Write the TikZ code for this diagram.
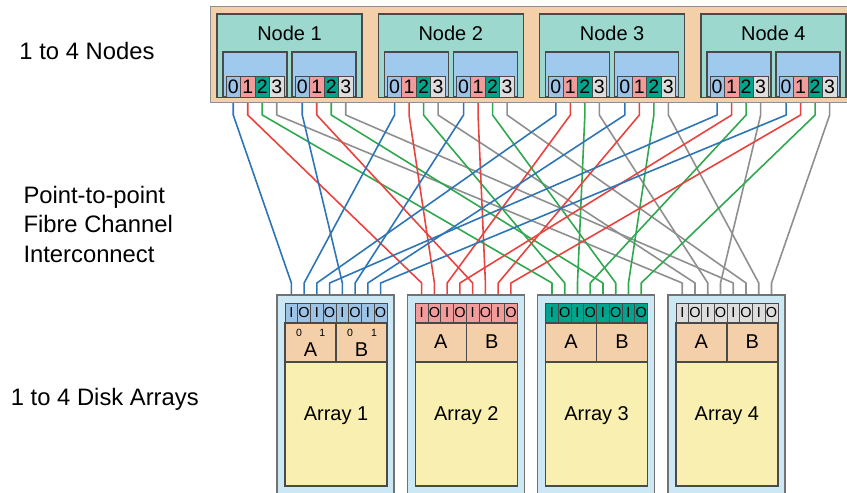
\documentclass[tikz,border=0pt]{standalone}
\usepackage{fontspec}
\setmainfont{Liberation Sans}
\usetikzlibrary{calc}
\pgfdeclarelayer{background}
\pgfsetlayers{background,main}
\definecolor{ctan}{HTML}{F4D0AA}
\definecolor{cteal}{HTML}{9DD8CF}
\definecolor{chba}{HTML}{9FCAEE}
\definecolor{cport0}{HTML}{9CC3E5}
\definecolor{cport1}{HTML}{F29B9B}
\definecolor{cport2}{HTML}{00A38C}
\definecolor{cport3}{HTML}{DDDDDD}
\definecolor{carr}{HTML}{CDE8F5}
\definecolor{cyel}{HTML}{F8EFB1}
\definecolor{cborder}{HTML}{4A4A4A}
\definecolor{cline0}{HTML}{2E75B6}
\definecolor{cline1}{HTML}{E8433E}
\definecolor{cline2}{HTML}{2FA84F}
\definecolor{cline3}{HTML}{8F8F8F}
\tikzset{
  boxbase/.style={rectangle, inner sep=0pt, outer sep=0pt, anchor=north west},
  chassis/.style={boxbase, fill=ctan, draw=cline3, line width=1pt},
  nodebox/.style={boxbase, fill=cteal, draw=cborder, line width=1.4pt, minimum width=145pt, minimum height=83.5pt},
  hbabox/.style={boxbase, fill=chba, draw=cborder, line width=1.4pt, minimum width=64pt, minimum height=45pt},
  portbox/.style={boxbase, draw=cborder, line width=0.8pt, minimum width=14.5pt, minimum height=21pt, font=\fontsize{19.5}{20}\selectfont},
  arrbox/.style={boxbase, fill=carr, draw=cline3!80!black, line width=1.4pt, minimum width=117pt, minimum height=210pt},
  cellbox/.style={boxbase, draw=cborder, line width=0.8pt, minimum width=12.75pt, minimum height=20pt, font=\fontsize{14.5}{15}\selectfont},
  ctlbox/.style={boxbase, fill=ctan, draw=cborder, line width=1.4pt, minimum width=51pt, minimum height=39pt},
  yelbox/.style={boxbase, fill=cyel, draw=cborder, line width=1.4pt, minimum width=102pt, minimum height=124pt},
  biglbl/.style={inner sep=0pt, anchor=base west, font=\fontsize{23.8}{28}\selectfont},
  midlbl/.style={inner sep=0pt, anchor=base, font=\fontsize{20}{24}\selectfont},
  smalllbl/.style={inner sep=0pt, anchor=base, font=\fontsize{10.5}{12}\selectfont},
  wire/.style={line width=1.6pt, line join=round}
}
\begin{document}
\begin{tikzpicture}[x=1pt,y=-1pt]
\useasboundingbox (0,0) rectangle (847,493);
\clip (0,0) rectangle (847,493);
\coordinate (ytop) at (0,115);
\coordinate (ybot) at (0,283);

% left labels
\node[biglbl] (lab1) at (19.3,59.3) {1 to 4 Nodes};
\node[biglbl] (lab2a) at (23.3,203) {Point-to-point};
\node[biglbl] (lab2b) at (23.3,232.5) {Fibre Channel};
\node[biglbl] (lab2c) at (23.3,262) {Interconnect};
\node[biglbl] (lab3) at (10.7,405.7) {1 to 4 Disk Arrays};

% nodes
\node[chassis, minimum width=645pt, minimum height=96pt] (chassis) at (210,6) {};
\foreach \n [count=\k] in {0,...,3} {
  \pgfmathsetmacro\xn{217+161.3*\n}
  \node[nodebox] (N\n) at (\xn,14) {};
  \node[midlbl] (NL\n) at (\xn+72.5,40.7) {Node \k};
  \foreach \h in {0,1} {
    \pgfmathsetmacro\xh{\xn+6+69*\h}
    \node[hbabox] (H\n\h) at (\xh,52) {};
    \foreach \p in {0,...,3} {
      \node[portbox, fill=cport\p] (P\n\h\p) at (\xh+3+14.5*\p,76) {\p};
    }
  }
}

% arrays
\foreach \m [count=\k] in {0,...,3} {
  \pgfmathsetmacro\am{277+130.3*\m}
  \pgfmathsetmacro\aby{\m==0 ? 356 : 348}
  \node[arrbox] (AR\m) at (\am,295) {};
  \foreach \i/\t in {0/I,1/O,2/I,3/O,4/I,5/O,6/I,7/O} {
    \node[cellbox, fill=cport\m] (C\m\i) at (\am+8+12.75*\i,303) {\t};
  }
  \node[ctlbox] (CA\m) at (\am+8,323) {};
  \node[ctlbox] (CB\m) at (\am+59,323) {};
  \node[midlbl] (LA\m) at (\am+33.5,\aby) {A};
  \node[midlbl] (LB\m) at (\am+84.5,\aby) {B};
  \node[yelbox] (Y\m) at (\am+8,362) {};
  \node[midlbl] (AL\m) at (\am+59,420) {Array \k};
}
\node[smalllbl] (s1) at (299,336.7) {0};
\node[smalllbl] (s2) at (322.3,336.7) {1};
\node[smalllbl] (s3) at (350,336.7) {0};
\node[smalllbl] (s4) at (374,336.7) {1};

% interconnect
\begin{pgfonlayer}{background}
\foreach \n in {0,...,3} {
  \foreach \h in {0,1} {
    \foreach \p in {0,...,3} {
      \pgfmathtruncatemacro\ci{4*\h+\n}
      \draw[wire, draw=cline\p] (P\n\h\p.south) -- (P\n\h\p.south |- ytop) -- (C\p\ci.north |- ybot) -- (C\p\ci.north);
    }
  }
}
\end{pgfonlayer}
\end{tikzpicture}
\end{document}
